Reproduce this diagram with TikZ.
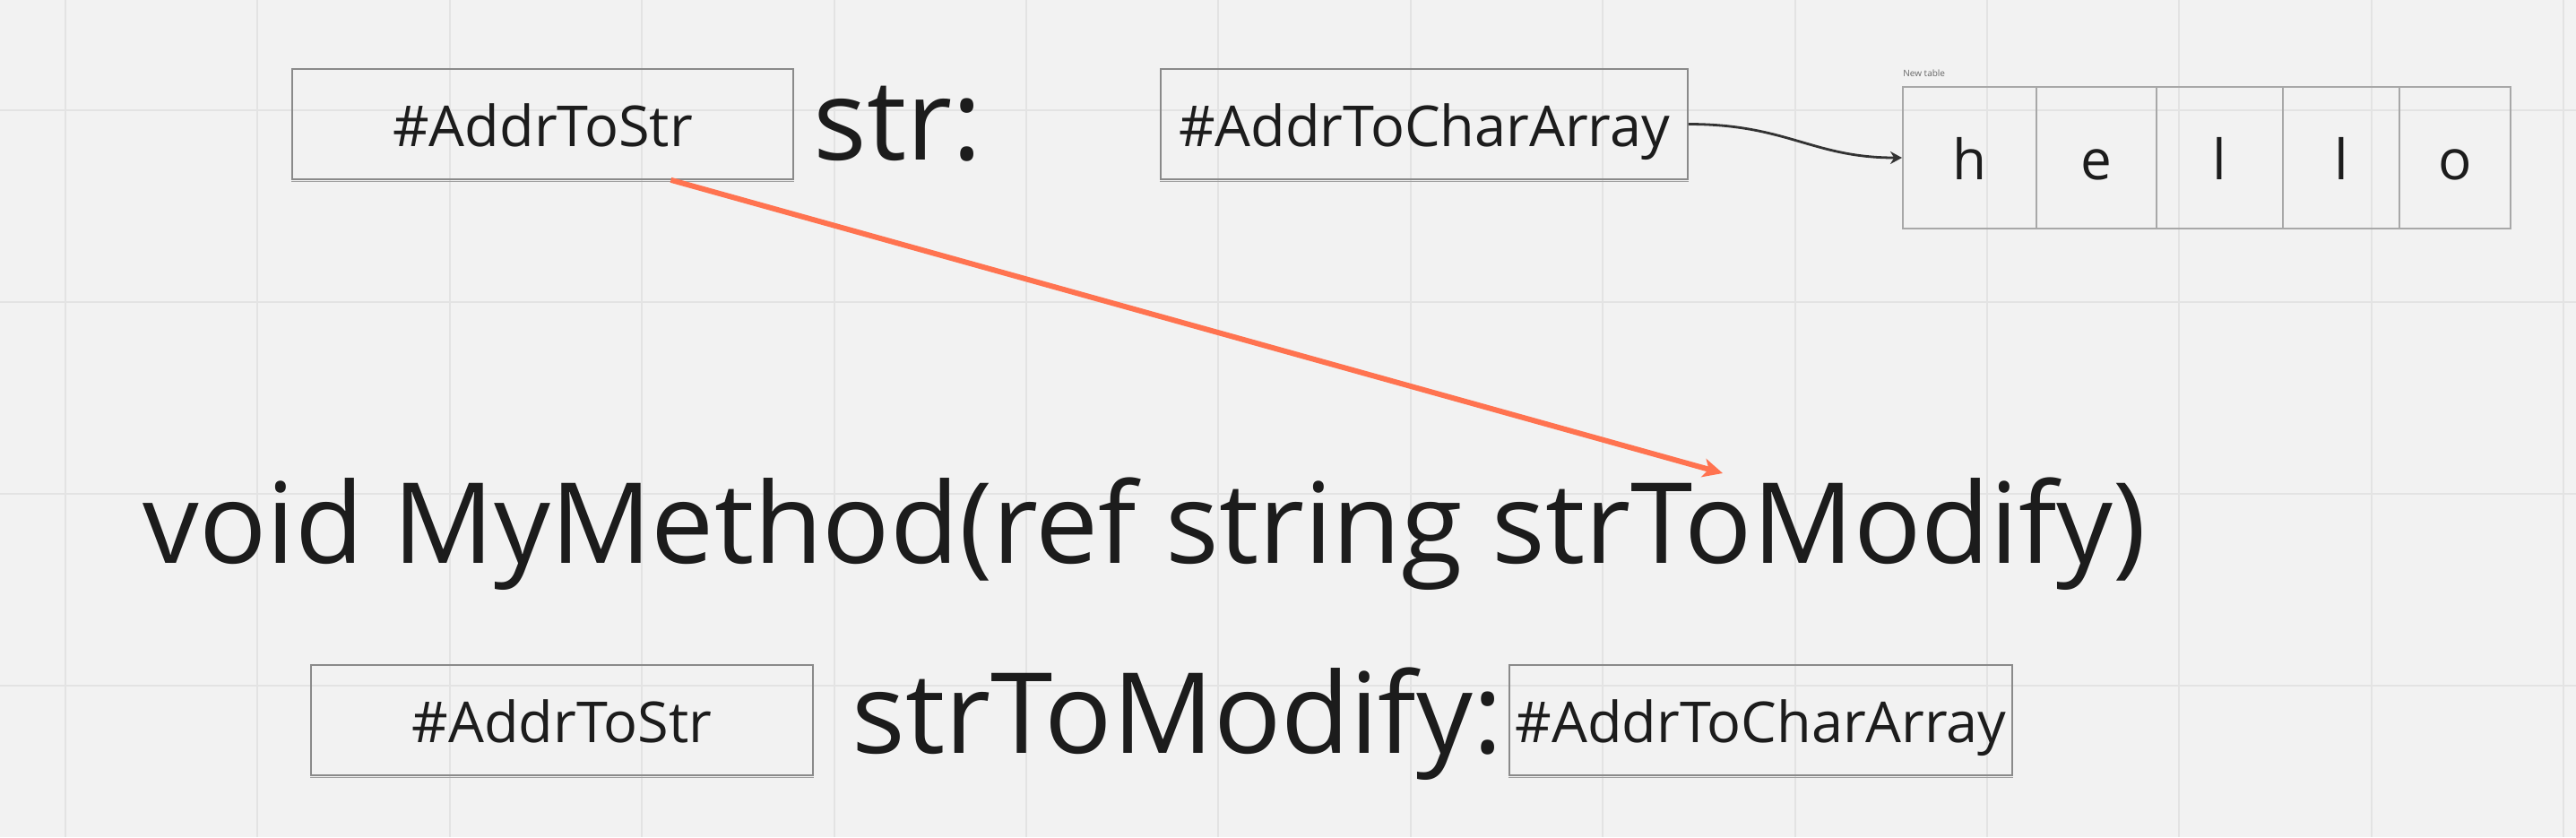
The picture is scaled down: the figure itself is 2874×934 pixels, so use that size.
\documentclass[tikz,border=0pt]{standalone}
\usepackage{fontspec}
\setmainfont{Open Sans}
\usetikzlibrary{arrows.meta,calc}
\definecolor{bg}{HTML}{F2F2F2}
\definecolor{gridc}{HTML}{E3E3E3}
\definecolor{boxc}{HTML}{8A8A8A}
\definecolor{shadc}{HTML}{A0A0A0}
\definecolor{tabc}{HTML}{A8A8A8}
\definecolor{ink}{HTML}{1C1C1C}
\definecolor{orng}{HTML}{FF7350}
\definecolor{conc}{HTML}{333333}
\begin{document}
\begin{tikzpicture}[x=0.5pt,y=-0.5pt,
  gridline/.style={gridc, line width=1pt},
  box/.style={draw=boxc, line width=0.8pt, inner sep=0pt, minimum height=61.5pt,
    text height=24.5pt, text depth=0pt, text=ink, font=\fontsize{31.5}{36}\selectfont},
  cell/.style={draw=tabc, line width=1pt, inner sep=0pt, minimum height=79pt,
    text height=24pt, text depth=0pt, text=ink, font=\fontsize{31}{36}\selectfont},
  big/.style={anchor=base west, inner sep=0pt, text=ink, font=\fontsize{62.5}{70}\selectfont},
  small/.style={anchor=base west, inner sep=0pt, text=black!60, font=\fontsize{5}{6}\selectfont},
  conn/.style={conc, line width=1.4pt, -{Stealth[length=6.5pt,width=7pt]}},
  oarrow/.style={orng, line width=3pt, -{Stealth[length=11pt,width=10.5pt,inset=3pt]}},
  shad/.style={shadc, line width=0.8pt}
]
\fill[bg] (0,0) rectangle (2874,934);
\useasboundingbox (0,0) rectangle (2874,934);
\foreach \i in {0,...,13} \draw[gridline] ({73+214.4*\i},0) -- ({73+214.4*\i},934);
\foreach \j in {0,...,3} \draw[gridline] (0,{123+214*\j}) -- (2874,{123+214*\j});

% boxes
\node[box, minimum width=279.5pt] (b1) at (605.5,138.5) {\#AddrToStr};
\node[box, minimum width=294pt] (b2) at (1589,138.5) {\#AddrToCharArray};
\node[box, minimum width=280pt] (b3) at (627,803.5) {\#AddrToStr};
\node[box, minimum width=280.5pt] (b4) at (1964.5,803.5) {\#AddrToCharArray};
\foreach \b in {b1,b2,b3,b4}
  \draw[shad] ([yshift=-0.8pt]\b.south west) -- ([yshift=-0.8pt]\b.south east);

% big texts
\node[big] (s1) at (907,178) {str:};
\node[big] (s2) at (950,840) {strToModify:};
\node[big] (sig) at (159,628) {void MyMethod(ref string strToModify)};

% table
\node[small] (tt) at (2123,85) {New table};
\node[cell, minimum width=74.3pt] (c1) at (2197.3,176) {h};
\node[cell, minimum width=67pt] (c2) at (2338.6,176) {e};
\node[cell, minimum width=70.55pt] (c3) at (2476.15,176) {l};
\node[cell, minimum width=65.15pt] (c4) at (2611.85,176) {l};
\node[cell, minimum width=61.8pt] (c5) at (2738.8,176) {o};

% connectors
\draw[conn] (b2.east) .. controls +(110,0) and +(-100,0) .. (c1.west);
\coordinate (otip) at (1922,528);
\draw[oarrow] ($(b1.south west)!0.755!(b1.south east)$) -- (otip);
\end{tikzpicture}
\end{document}
